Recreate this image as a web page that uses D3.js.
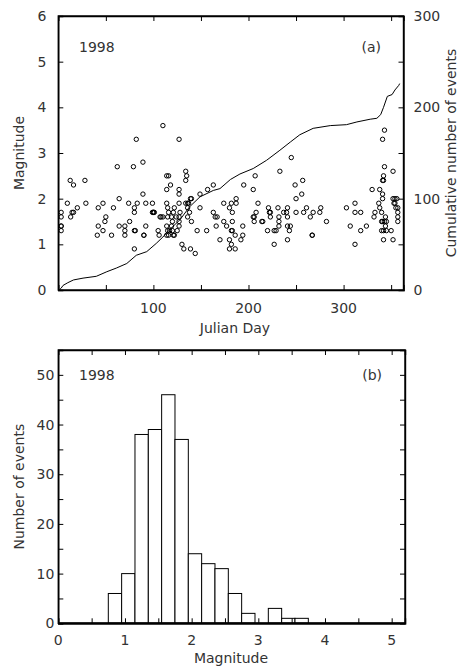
<!DOCTYPE html>
<html>
<head>
<meta charset="utf-8">
<script src="https://cdn.jsdelivr.net/npm/d3@7"></script>
<style>
  body { margin: 0; background: #fff; }
  svg text { font-family: "DejaVu Sans", sans-serif; fill: #333; }
  .axis path, .axis line { stroke: #000; }
</style>
</head>
<body>
<div id="main"></div>
<script>
// (a) events: julian day and magnitude
const eventDays = [3,3,3,3,3,9.5,12.5,16,13,14.5,16,20,28,29,42,47,42,41,47,49,50,56,58,62,64,64,70,70,70,74,75,79,80,80,80,80,81,82,83,89,89,90,90,92,92,99,100,101,99,105,106,107,108,110,110,114,116,114,114,115,116,115,114,115,114,116,118,119,120,119,120,121,122,121,122,127,127,127,127,127,127,127,128,130,132,134,135,134,134,136,137,139,140,138,136,140,139,144,146,149,149,156,157,163,163,165,167,166,170,174,174,177,180,182,187,187,183,183,182,183,180,182,180,186,186,192,194,194,195,205,205,206,206,207,208,210,214,215,220,221,222,223,223,227,227,229,231,232,232,232,233,237,240,241,241,241,241,244,243,245,249,250,250,256,257,261,258,265,267,267,268,275,276,282,303,307,312,312,312,318,318,324,330,332,333,337,338,338,341,342,342,343,341,341,340,341,343,340,342,345,342,341,343,344,350,352,352,354,356,353,354,352,355,357,357,357,357,340,344,345,124,125,117,136,100];
const eventMags = [1.7,1.6,1.4,1.4,1.3,1.9,2.4,2.3,1.6,1.7,1.7,1.8,2.4,1.9,1.8,1.9,1.4,1.2,1.3,1.5,1.6,1.2,1.8,2.7,2.0,1.4,1.4,1.3,1.2,1.9,1.5,2.7,1.8,1.7,0.9,1.3,1.3,3.3,1.9,2.8,2.1,1.2,1.2,1.9,1.4,1.7,1.7,1.7,1.9,1.3,1.2,1.6,1.6,1.6,3.6,2.5,2.5,2.2,1.9,1.8,1.7,1.6,1.4,1.3,1.2,1.2,2.3,1.6,1.5,1.4,1.3,1.2,1.2,1.7,1.8,3.3,2.2,2.1,1.9,1.6,1.5,1.4,1.7,1.0,0.9,2.6,2.5,2.4,1.9,1.9,1.9,2.0,2.0,1.7,1.6,1.5,0.9,0.8,1.3,1.8,2.1,1.3,2.2,2.3,1.7,1.6,1.6,1.4,1.1,1.9,1.5,1.4,1.8,1.9,1.9,2.0,1.7,1.5,1.3,1.3,1.1,1.0,0.9,0.9,1.2,1.1,1.4,1.2,2.3,2.2,1.6,1.6,1.5,2.5,1.7,1.9,1.5,1.5,1.3,1.8,1.7,1.7,1.6,1.0,1.3,1.3,1.8,1.6,1.5,1.4,2.6,1.7,1.7,1.6,1.8,1.1,1.4,1.4,1.3,2.9,2.3,2.0,1.7,2.1,2.4,1.8,1.7,1.6,1.2,1.2,1.7,1.7,1.8,1.5,1.8,1.4,1.9,1.7,1.0,1.7,1.3,1.4,2.2,1.6,1.7,1.9,2.2,1.8,2.4,2.4,2.5,2.7,2.1,2.0,1.5,1.5,1.5,1.3,1.3,1.3,1.1,3.3,3.5,1.6,1.3,2.6,2.0,2.0,2.0,1.9,1.9,1.1,1.8,1.8,1.7,1.6,1.5,1.7,1.4,1.5,1.6,1.3,1.3,1.8,1.7];

// (a) cumulative number of events curve
const cumDays = [1,3,5,10,16,26,40,51,61,72,82,93,103,110,117,128,138,149,163,170,181,191,205,219,233,244,254,268,286,303,314,328,335,339,342,346,351,354,358,359];
const cumCounts = [0,2,5,8,11,13,15,20,24,29,38,42,51,58,66,77,91,102,109,111,121,127,133,142,153,162,170,177,180,181,184,187,188,192,200,212,214,219,224,226];

// (b) histogram of magnitudes, bins of 0.2
const binStarts = [0.75,0.95,1.15,1.35,1.55,1.75,1.95,2.15,2.35,2.55,2.75,2.95,3.15,3.35,3.55];
const binCounts = [6,10,38,39,46,37,14,12,11,6,2,0,3,1,1];
const binWidth = 0.2;

const magTicks = [0,1,2,3,4,5,6];
const cumTicks = [0,100,200,300];
const dayTicks = [100,200,300];
const histYTicks = [0,10,20,30,40,50];
const histXTicks = [0,1,2,3,4,5];

const svg = d3.select("#main").append("svg")
  .attr("width", 465).attr("height", 671);

// ---------- panel (a) ----------
const a = { left: 58.3, right: 403.5, top: 16, bottom: 290 };
const xDay = d3.scaleLinear().domain([0, 363]).range([a.left, a.right]);
const yMag = d3.scaleLinear().domain([0, 6]).range([a.bottom, a.top]);
const yCum = d3.scaleLinear().domain([0, 300]).range([a.bottom, a.top]);

const gA = svg.append("g");

// inward ticks
gA.append("g").attr("class", "axis").attr("transform", `translate(0,${a.bottom})`)
  .call(d3.axisBottom(xDay).tickValues(d3.range(50, 363, 50)).tickSize(-5).tickFormat(""));
gA.append("g").attr("class", "axis").attr("transform", `translate(0,${a.top})`)
  .call(d3.axisTop(xDay).tickValues(d3.range(50, 363, 50)).tickSize(-5).tickFormat(""));
gA.append("g").attr("class", "axis").attr("transform", `translate(${a.left},0)`)
  .call(d3.axisLeft(yMag).tickValues(magTicks).tickSize(-5).tickPadding(12).tickFormat(d3.format("d")));
gA.append("g").attr("class", "axis").attr("transform", `translate(${a.right},0)`)
  .call(d3.axisRight(yCum).tickValues(d3.range(0, 301, 50)).tickSize(-5).tickPadding(10)
    .tickFormat(d => cumTicks.includes(d) ? d : ""));
// day labels only at 100, 200, 300
gA.selectAll("text.dayLab").data(dayTicks).join("text").attr("class", "dayLab")
  .attr("x", d => xDay(d)).attr("y", a.bottom + 23).attr("text-anchor", "middle")
  .style("font-size", "14px").text(d => d);

gA.selectAll(".axis path").attr("stroke-width", 1.4);
gA.selectAll(".axis text").style("font-size", "14px");

gA.append("rect").attr("x", a.left).attr("y", a.top)
  .attr("width", a.right - a.left).attr("height", a.bottom - a.top)
  .attr("fill", "none").attr("stroke", "#000").attr("stroke-width", 1.4);

gA.append("path").datum(cumDays.map((d, i) => [d, cumCounts[i]]))
  .attr("fill", "none").attr("stroke", "#000").attr("stroke-width", 1)
  .attr("d", d3.line().x(d => xDay(d[0])).y(d => yCum(d[1])));

gA.selectAll("circle").data(eventDays.map((d, i) => [d, eventMags[i]])).join("circle")
  .attr("cx", d => xDay(d[0])).attr("cy", d => yMag(d[1])).attr("r", 2.2)
  .attr("fill", "none").attr("stroke", "#000").attr("stroke-width", 1);

gA.append("text").attr("x", 79).attr("y", 52).style("font-size", "14px").text("1998");
gA.append("text").attr("x", 381).attr("y", 52).attr("text-anchor", "end").style("font-size", "14px").text("(a)");
gA.append("text").attr("x", 235).attr("y", 333).attr("text-anchor", "middle").style("font-size", "14px").text("Julian Day");
gA.append("text").attr("transform", `translate(24,${(a.top + a.bottom) / 2}) rotate(-90)`)
  .attr("text-anchor", "middle").style("font-size", "14px").text("Magnitude");
gA.append("text").attr("transform", `translate(456,${(a.top + a.bottom) / 2}) rotate(-90)`)
  .attr("text-anchor", "middle").style("font-size", "14px").text("Cumulative number of events");

// ---------- panel (b) ----------
const b = { left: 58.3, right: 405, top: 350, bottom: 623.3 };
const xM = d3.scaleLinear().domain([0, 5.2]).range([b.left, b.right]);
const yN = d3.scaleLinear().domain([0, 55]).range([b.bottom, b.top]);

const gB = svg.append("g");

gB.selectAll("rect.bar").data(binStarts.map((d, i) => [d, binCounts[i]])).join("rect")
  .attr("class", "bar")
  .attr("x", d => xM(d[0])).attr("width", d => xM(d[0] + binWidth) - xM(d[0]))
  .attr("y", d => yN(d[1])).attr("height", d => yN(0) - yN(d[1]))
  .attr("fill", "#fff").attr("stroke", "#000").attr("stroke-width", 1);

gB.append("g").attr("class", "axis").attr("transform", `translate(0,${b.bottom})`)
  .call(d3.axisBottom(xM).tickValues(d3.range(0.5, 5.2, 0.5)).tickSize(-5).tickFormat(""));
gB.append("g").attr("class", "axis").attr("transform", `translate(0,${b.top})`)
  .call(d3.axisTop(xM).tickValues(d3.range(0.5, 5.2, 0.5)).tickSize(-5).tickFormat(""));
gB.append("g").attr("class", "axis").attr("transform", `translate(${b.left},0)`)
  .call(d3.axisLeft(yN).tickValues(d3.range(0, 55, 5)).tickSize(-5).tickPadding(4)
    .tickFormat(d => histYTicks.includes(d) ? d : ""));
gB.append("g").attr("class", "axis").attr("transform", `translate(${b.right},0)`)
  .call(d3.axisRight(yN).tickValues(d3.range(5, 55, 5)).tickSize(-5).tickFormat(""));
gB.selectAll("text.mLab").data(histXTicks).join("text").attr("class", "mLab")
  .attr("x", d => xM(d)).attr("y", b.bottom + 22).attr("text-anchor", "middle")
  .style("font-size", "14px").text(d => d);

gB.selectAll(".axis path").attr("stroke-width", 1.4);
gB.selectAll(".axis text").style("font-size", "14px");

gB.append("rect").attr("x", b.left).attr("y", b.top)
  .attr("width", b.right - b.left).attr("height", b.bottom - b.top)
  .attr("fill", "none").attr("stroke", "#000").attr("stroke-width", 1.4);
gB.append("line").attr("x1", b.left).attr("x2", b.right)
  .attr("y1", b.bottom).attr("y2", b.bottom).attr("stroke", "#000").attr("stroke-width", 2.2);

gB.append("text").attr("x", 79).attr("y", 380).style("font-size", "14px").text("1998");
gB.append("text").attr("x", 382).attr("y", 380).attr("text-anchor", "end").style("font-size", "14px").text("(b)");
gB.append("text").attr("x", 231).attr("y", 663).attr("text-anchor", "middle").style("font-size", "14px").text("Magnitude");
gB.append("text").attr("transform", `translate(24,${(b.top + b.bottom) / 2}) rotate(-90)`)
  .attr("text-anchor", "middle").style("font-size", "14px").text("Number of events");
</script>
</body>
</html>
